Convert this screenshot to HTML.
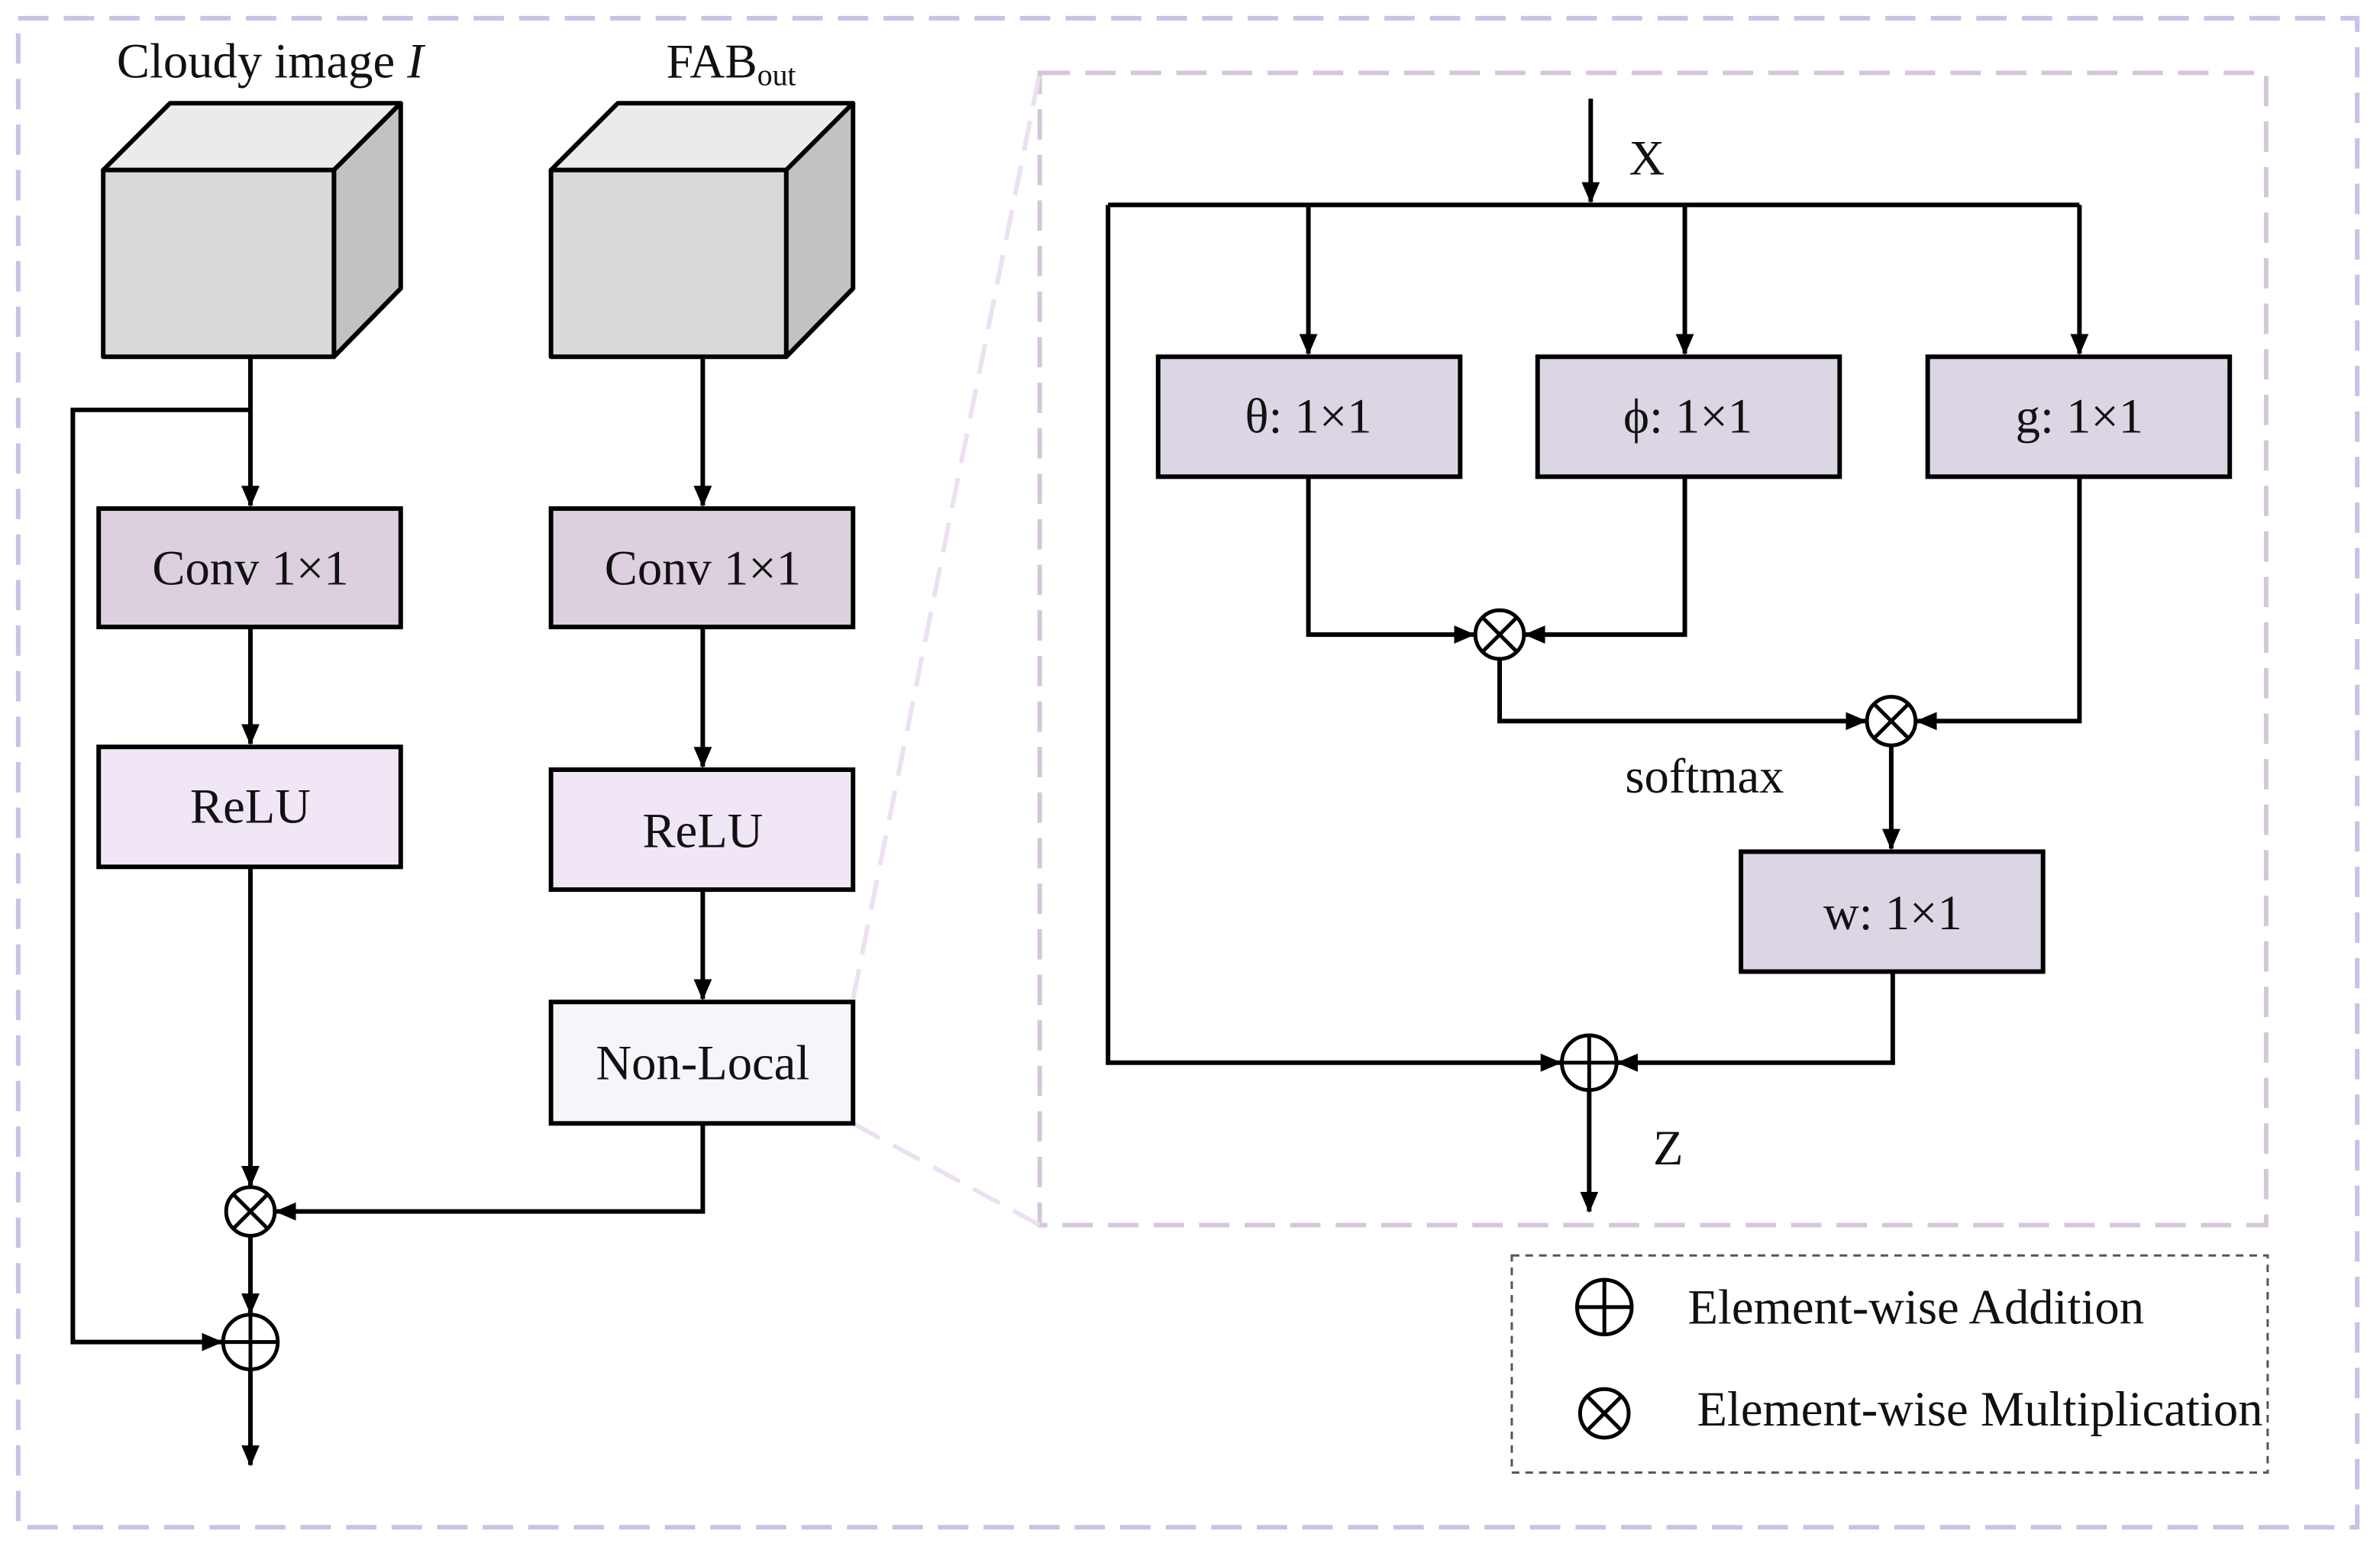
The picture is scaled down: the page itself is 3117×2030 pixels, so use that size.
<!DOCTYPE html>
<html><head><meta charset="utf-8"><style>
html,body{margin:0;padding:0;background:#fff;}
svg{display:block;}
text{font-family:"Liberation Serif",serif;fill:#111;}
</style></head><body>
<svg width="3117" height="2030" viewBox="0 0 1568 1021" preserveAspectRatio="none" xmlns="http://www.w3.org/2000/svg">
<defs>
<marker id="a" markerWidth="14" markerHeight="12" refX="13" refY="6" orient="auto" markerUnits="userSpaceOnUse" viewBox="0 0 14 12">
<path d="M0,0 L14,6 L0,12 z" fill="#000"/></marker>
</defs>
<rect x="12" y="12" width="1541" height="994" fill="none" stroke="#c9c1e6" stroke-width="3" stroke-dasharray="20,10"/>
<rect x="685" y="48" width="808" height="759" fill="none" stroke="#d6c6da" stroke-width="3" stroke-dasharray="20,10"/>
<line x1="562" y1="658" x2="685" y2="48" stroke="#ece0f2" stroke-width="3" stroke-dasharray="20,10"/>
<line x1="562" y1="740" x2="685" y2="807" stroke="#ece0f2" stroke-width="3" stroke-dasharray="20,10"/>

<g stroke="#000" stroke-width="3" stroke-linejoin="round">
<polygon points="68,112 112,68 264,68 220,112" fill="#ebebeb"/>
<polygon points="220,112 264,68 264,190 220,235" fill="#c2c2c2"/>
<rect x="68" y="112" width="152" height="123" fill="#d9d9d9"/>
<polygon points="363,112 407,68 562,68 518,112" fill="#ebebeb"/>
<polygon points="518,112 562,68 562,190 518,235" fill="#c2c2c2"/>
<rect x="363" y="112" width="155" height="123" fill="#d9d9d9"/>
</g>
<text x="178" y="51" font-size="32.5" text-anchor="middle">Cloudy image <tspan font-style="italic">I</tspan></text>
<text x="439" y="51" font-size="32">FAB<tspan font-size="20" dy="5">out</tspan></text>

<g stroke="#000" stroke-width="3" fill="none">
<line x1="165" y1="235" x2="165" y2="333" marker-end="url(#a)"/>
<polyline points="165,270 48,270 48,884 146,884" marker-end="url(#a)"/>
<line x1="165" y1="413" x2="165" y2="490" marker-end="url(#a)"/>
<line x1="165" y1="571" x2="165" y2="781" marker-end="url(#a)"/>
<line x1="165" y1="814" x2="165" y2="865" marker-end="url(#a)"/>
<line x1="165" y1="902" x2="165" y2="965" marker-end="url(#a)"/>
<line x1="463" y1="235" x2="463" y2="333" marker-end="url(#a)"/>
<line x1="463" y1="413" x2="463" y2="505" marker-end="url(#a)"/>
<line x1="463" y1="586" x2="463" y2="658" marker-end="url(#a)"/>
<polyline points="463,740 463,798 182,798" marker-end="url(#a)"/>

<line x1="1048" y1="65" x2="1048" y2="133" marker-end="url(#a)"/>
<line x1="730" y1="135" x2="1370" y2="135"/>
<polyline points="730,135 730,700 1028,700" marker-end="url(#a)"/>
<line x1="862" y1="135" x2="862" y2="233" marker-end="url(#a)"/>
<line x1="1110" y1="135" x2="1110" y2="233" marker-end="url(#a)"/>
<line x1="1370" y1="135" x2="1370" y2="233" marker-end="url(#a)"/>
<polyline points="862,314 862,418 971,418" marker-end="url(#a)"/>
<polyline points="1110,314 1110,418 1005,418" marker-end="url(#a)"/>
<polyline points="988,434 988,475 1229,475" marker-end="url(#a)"/>
<polyline points="1370,314 1370,475 1263,475" marker-end="url(#a)"/>
<line x1="1246" y1="491" x2="1246" y2="559" marker-end="url(#a)"/>
<polyline points="1247,640 1247,700 1066,700" marker-end="url(#a)"/>
<line x1="1047" y1="718" x2="1047" y2="798" marker-end="url(#a)"/>
</g>

<g stroke="#000" stroke-width="3">
<rect x="65" y="335" width="199" height="78" fill="#dcd0de"/>
<rect x="65" y="492" width="199" height="79" fill="#f1e6f6"/>
<rect x="363" y="335" width="199" height="78" fill="#dcd0de"/>
<rect x="363" y="507" width="199" height="79" fill="#f1e6f6"/>
<rect x="363" y="660" width="199" height="80" fill="#f7f5f9"/>
<rect x="763" y="235" width="199" height="79" fill="#dcd6e4"/>
<rect x="1013" y="235" width="199" height="79" fill="#dcd6e4"/>
<rect x="1270" y="235" width="199" height="79" fill="#dcd6e4"/>
<rect x="1147" y="561" width="199" height="79" fill="#dcd6e4"/>
</g>
<g font-size="32.5" text-anchor="middle">
<text x="165" y="385">Conv 1×1</text>
<text x="165" y="542">ReLU</text>
<text x="463" y="385">Conv 1×1</text>
<text x="463" y="558">ReLU</text>
<text x="463" y="711">Non-Local</text>
<text x="862" y="285">θ: 1×1</text>
<text x="1112" y="285">ϕ: 1×1</text>
<text x="1370" y="285">g: 1×1</text>
<text x="1247" y="612">w: 1×1</text>
<text x="1123" y="522">softmax</text>
<text x="1085" y="115">X</text>
<text x="1099" y="767">Z</text>
</g>

<g stroke="#000" stroke-width="2.5" fill="#fff">
<circle cx="165" cy="798" r="16"/><path d="M154,787 L176,809 M176,787 L154,809"/>
<circle cx="165" cy="884" r="18"/><path d="M147,884 L183,884 M165,866 L165,902"/>
<circle cx="988" cy="418" r="16"/><path d="M977,407 L999,429 M999,407 L977,429"/>
<circle cx="1246" cy="475" r="16"/><path d="M1235,464 L1257,486 M1257,464 L1235,486"/>
<circle cx="1047" cy="700" r="18"/><path d="M1029,700 L1065,700 M1047,682 L1047,718"/>
<circle cx="1057" cy="861" r="18"/><path d="M1039,861 L1075,861 M1057,843 L1057,879"/>
<circle cx="1057" cy="931" r="16"/><path d="M1046,920 L1068,942 M1068,920 L1046,942"/>
</g>
<rect x="996" y="827" width="498" height="143" fill="none" stroke="#555" stroke-width="1.5" stroke-dasharray="5,4"/>
<text x="1112" y="872" font-size="32.5">Element-wise Addition</text>
<text x="1118" y="939" font-size="32.5">Element-wise Multiplication</text>
</svg>
</body></html>
